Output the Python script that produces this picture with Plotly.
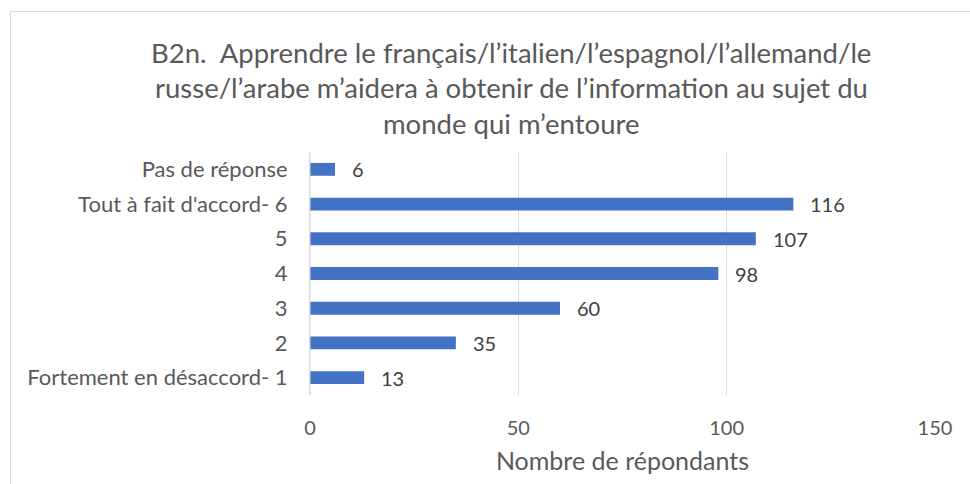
import plotly.graph_objects as go

categories = ["Fortement en désaccord- 1", "2", "3", "4", "5", "Tout à fait d'accord- 6", "Pas de réponse"]
values = [13, 35, 60, 98, 107, 116, 6]
x_ticks = [0, 50, 100, 150]
title_lines = [
    "B2n.  Apprendre le français/l’italien/l’espagnol/l’allemand/le",
    "russe/l’arabe m’aidera à obtenir de l’information au sujet du",
    "monde qui m’entoure",
]
x_title = "Nombre de répondants"

FONT = "Lato"
GREY = "#595959"

L, R, T, B = 310, 35, 152, 89
W, H = 970, 484
pw, ph = W - L - R, H - T - B

def px_to_paper_x(px):
    return (px - L) / pw

def px_to_paper_y(py):
    return (H - B - py) / ph

fig = go.Figure()
fig.add_trace(go.Bar(
    x=values, y=categories, orientation="h",
    marker=dict(color="#4472C4", line=dict(width=0)),
    hoverinfo="x+y",
))

annotations = []
for i, v in enumerate(values):
    annotations.append(dict(x=v, y=i, xref="x", yref="y", text=str(v), showarrow=False,
                            xanchor="left", xshift=15,
                            font=dict(family=FONT, size=20, color="#404040")))
title_y = [52.5, 87.5, 123]
for line, py in zip(title_lines, title_y):
    annotations.append(dict(x=px_to_paper_x(511), y=px_to_paper_y(py), xref="paper", yref="paper",
                            text=line, showarrow=False, xanchor="center", yanchor="middle",
                            font=dict(family=FONT, size=27.5, color=GREY)))

fig.update_layout(
    width=W, height=H,
    margin=dict(l=L, r=R, t=T, b=B),
    paper_bgcolor="white", plot_bgcolor="white",
    showlegend=False,
    bargap=0.63,
    font=dict(family=FONT, color=GREY),
    annotations=annotations,
    shapes=[dict(type="rect", xref="paper", yref="paper",
                 x0=px_to_paper_x(10.5), x1=px_to_paper_x(990),
                 y0=px_to_paper_y(500), y1=px_to_paper_y(11.5),
                 line=dict(color="#d9d9d9", width=1), fillcolor="rgba(0,0,0,0)", layer="below")],
    xaxis=dict(
        range=[0, 150], tickvals=x_ticks, showgrid=True, gridcolor="#d9d9d9", gridwidth=1,
        zeroline=False, showline=False, ticks="", automargin=False,
        tickfont=dict(family=FONT, size=20, color=GREY),
        ticklabelstandoff=19,
        title=dict(text=x_title, font=dict(family=FONT, size=25, color=GREY), standoff=14),
    ),
    yaxis=dict(
        type="category",
        categoryorder="array", categoryarray=categories,
        showgrid=False, zeroline=False, ticks="", automargin=False,
        showline=True, linecolor="#d9d9d9", linewidth=1,
        tickfont=dict(family=FONT, size=22, color=GREY),
        ticklabelstandoff=17,
    ),
)
fig.add_vline(x=0, line=dict(color="#d9d9d9", width=1))

fig.write_html("out.html", config={"displayModeBar": False},
               post_script="document.body.style.margin='0';")
